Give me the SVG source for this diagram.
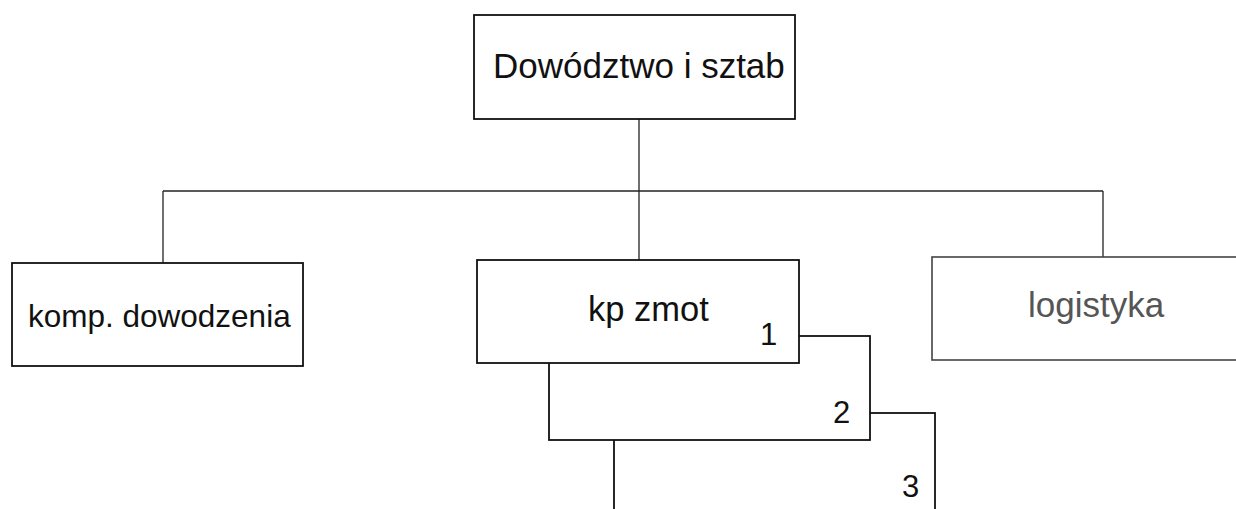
<svg xmlns="http://www.w3.org/2000/svg" width="1236" height="509" viewBox="0 0 1236 509">
<style>
.box{fill:#fff;stroke:#111;stroke-width:1.8}
.lbox{fill:#fff;stroke:#444;stroke-width:1.6}
.t{font-family:"Liberation Sans",Arial,sans-serif;fill:#111}
.c{fill:none;stroke:#222;stroke-width:1.3}
</style>
<rect width="1236" height="509" fill="#fff"/>
<g id="connectors">
<line class="c" x1="639" y1="119" x2="639" y2="260"/>
<line class="c" x1="163" y1="191" x2="1103" y2="191"/>
<line class="c" x1="163" y1="191" x2="163" y2="263"/>
<line class="c" x1="1103" y1="191" x2="1103" y2="257"/>
</g>
<g id="top">
<rect class="box" x="474" y="15" width="321" height="104"/>
<text class="t" x="493" y="78" font-size="35">Dowództwo i sztab</text>
</g>
<g id="komp">
<rect class="box" x="12" y="263" width="291" height="103"/>
<text class="t" x="28" y="327" font-size="31.5">komp. dowodzenia</text>
</g>
<g id="logistyka">
<rect class="lbox" x="932" y="257" width="320" height="103"/>
<text class="t" x="1028" y="317" font-size="35" style="fill:#555">logistyka</text>
</g>
<g id="kp3">
<rect class="box" x="614" y="413" width="321" height="110"/>
<text class="t" x="902" y="497" font-size="31">3</text>
</g>
<g id="kp2">
<rect class="box" x="549" y="336" width="321" height="104"/>
<text class="t" x="833" y="423" font-size="31">2</text>
</g>
<g id="kp1">
<rect class="box" x="477" y="260" width="322" height="103"/>
<text class="t" x="588" y="321" font-size="34.5">kp zmot</text>
<text class="t" x="760" y="345" font-size="31">1</text>
</g>
</svg>
